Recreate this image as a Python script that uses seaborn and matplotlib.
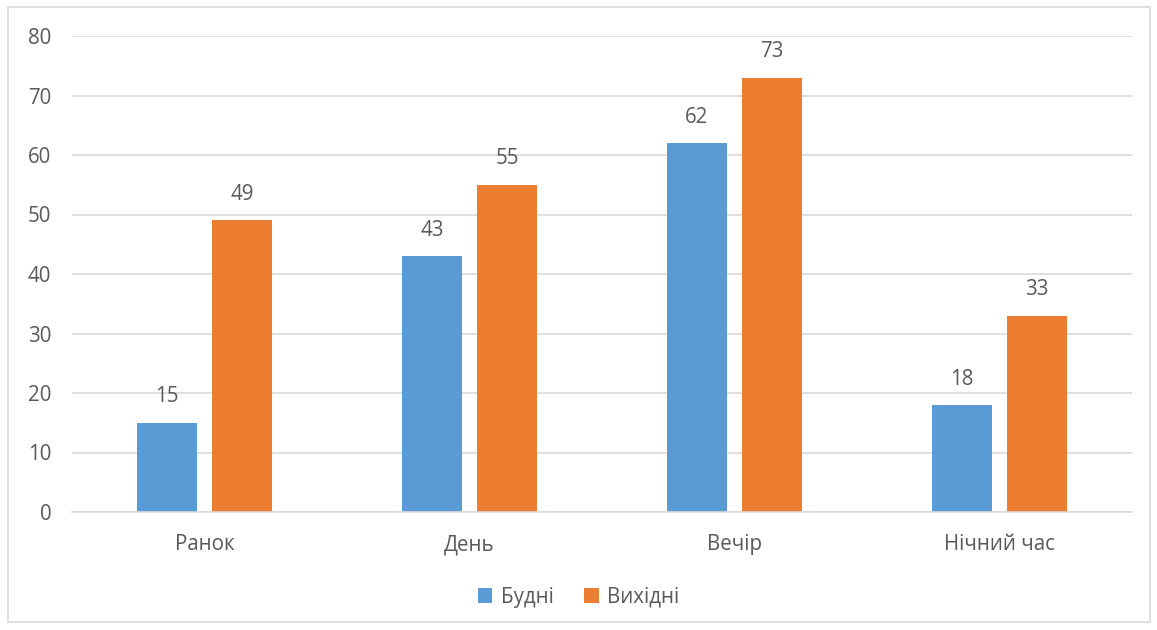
import matplotlib
matplotlib.use("Agg")
import matplotlib.pyplot as plt
import seaborn as sns
import pandas as pd
from matplotlib.patches import Rectangle

categories = ["Ранок", "День", "Вечір", "Нічний час"]
series_names = ["Будні", "Вихідні"]
weekdays = [15, 43, 62, 18]
weekends = [49, 55, 73, 33]
y_ticks = [0, 10, 20, 30, 40, 50, 60, 70, 80]

colors = ["#5B9BD5", "#ED7D31"]
text_color = "#595959"

df = pd.DataFrame({
    "cat": categories * 2,
    "series": [series_names[0]] * len(categories) + [series_names[1]] * len(categories),
    "value": weekdays + weekends,
})

sns.set_theme(style="white")
plt.rcParams["font.family"] = ["Open Sans", "DejaVu Sans"]

W, H = 1157, 630
fs = 14.8
fig = plt.figure(figsize=(W / 100, H / 100), dpi=100)
ax = fig.add_axes([72 / W, 1 - 512 / H, (1132 - 72) / W, (512 - 36) / H])

sns.barplot(data=df, x="cat", y="value", hue="series", order=categories,
            hue_order=series_names, palette=colors, width=0.566, gap=0.2,
            saturation=1, linewidth=0, ax=ax, legend=True)

ax.set_ylim(0, 80)
ax.set_yticks(y_ticks)
ax.set_xlim(-0.5, len(categories) - 0.5)
ax.yaxis.grid(True, color="#D9D9D9", linewidth=1.2)
ax.set_axisbelow(True)
for s in ["top", "right", "left"]:
    ax.spines[s].set_visible(False)
ax.spines["bottom"].set_color("#D9D9D9")
ax.spines["bottom"].set_linewidth(1.2)
ax.tick_params(axis="both", length=0, colors=text_color, labelsize=fs)
ax.tick_params(axis="x", pad=16)
ax.tick_params(axis="y", pad=15)
ax.set_xlabel("")
ax.set_ylabel("")

for cont in ax.containers:
    ax.bar_label(cont, labels=[f"{v:g}" for v in cont.datavalues], padding=11,
                 fontsize=fs, color=text_color)

handles, labels = ax.get_legend_handles_labels()
ax.get_legend().remove()
fig.legend(handles, labels, loc="center", bbox_to_anchor=(0.5, 1 - 597 / H),
           ncol=2, frameon=False, fontsize=fs, labelcolor=text_color,
           handlelength=0.7, handleheight=0.7, handletextpad=0.4, columnspacing=1.5)

fig.patches.append(Rectangle((8 / W, 1 - 622 / H), (1150 - 8) / W, (622 - 7) / H,
                             transform=fig.transFigure, fill=False,
                             edgecolor="#D9D9D9", linewidth=1.2))

fig.savefig("out.png", dpi=100)
